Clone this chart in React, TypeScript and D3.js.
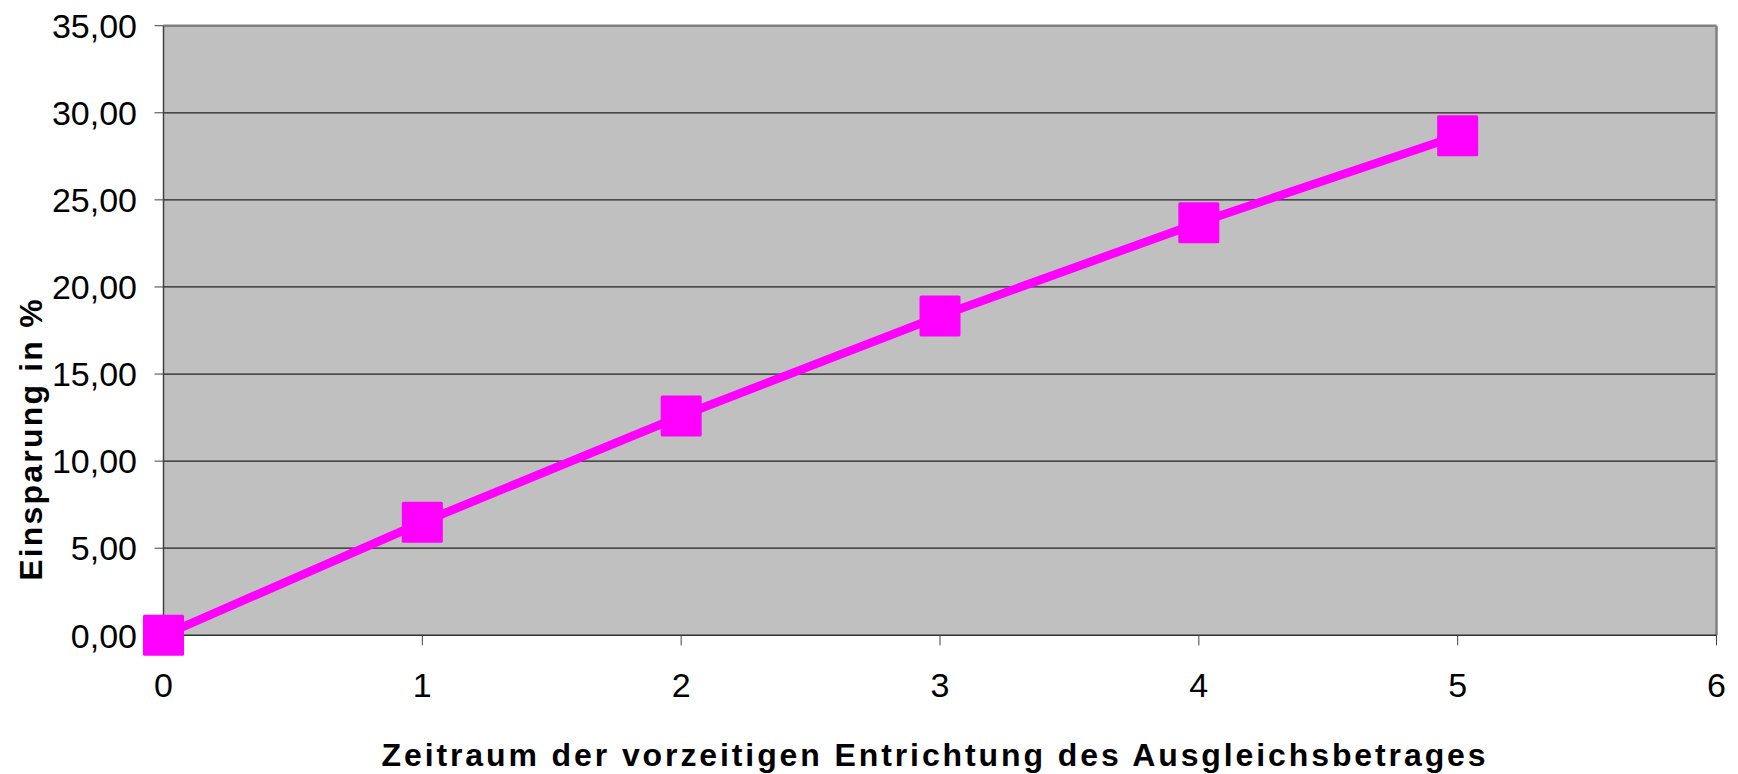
import React from 'react'
import { scaleLinear, line } from 'd3'

const years = [0, 1, 2, 3, 4, 5]
const savings = [0, 6.49, 12.59, 18.33, 23.69, 28.68]
const xTicks = [0, 1, 2, 3, 4, 5, 6]
const yTicks = [0, 5, 10, 15, 20, 25, 30, 35]

const W = 1738
const H = 774
const plot = { left: 163.5, right: 1716.5, top: 25.7, bottom: 635.3 }
const font = '"Liberation Sans", Arial, sans-serif'

const fmt = (v: number) => v.toFixed(2).replace('.', ',')

const App = () => {
  const x = scaleLinear().domain([0, 6]).range([plot.left, plot.right])
  const y = scaleLinear().domain([0, 35]).range([plot.bottom, plot.top])

  const pts = years.map((yr, i) => [x(yr), y(savings[i])] as [number, number])
  const path = line()(pts) || ''
  const marker = 41

  return (
    <svg width={W} height={H} style={{ position: 'absolute', left: 0, top: 0, background: 'white' }}>
      {/* plot background */}
      <rect x={plot.left} y={plot.top} width={plot.right - plot.left} height={plot.bottom - plot.top} fill="#c0c0c0" />

      {/* gridlines */}
      {yTicks.slice(1, -1).map(t => (
        <line key={t} x1={plot.left} x2={plot.right} y1={y(t)} y2={y(t)} stroke="#222" strokeWidth={1.3} />
      ))}

      {/* border top / right */}
      <line x1={plot.left} x2={plot.right} y1={plot.top} y2={plot.top} stroke="#808080" strokeWidth={2.5} />
      <line x1={plot.right} x2={plot.right} y1={plot.top} y2={plot.bottom} stroke="#808080" strokeWidth={2.5} />

      {/* axes */}
      <line x1={plot.left} x2={plot.left} y1={plot.top} y2={plot.bottom} stroke="#404040" strokeWidth={1.5} />
      <line x1={plot.left} x2={plot.right} y1={plot.bottom} y2={plot.bottom} stroke="#303030" strokeWidth={1.5} />

      {yTicks.map(t => (
        <g key={t}>
          <line x1={plot.left - 9} x2={plot.left} y1={y(t)} y2={y(t)} stroke="#404040" strokeWidth={1} />
          <text x={137} y={y(t)} dy="0.36em" textAnchor="end" fontFamily={font} fontSize={34} fill="#000">
            {fmt(t)}
          </text>
        </g>
      ))}

      {xTicks.map(t => (
        <g key={t}>
          <line x1={x(t)} x2={x(t)} y1={plot.bottom} y2={plot.bottom + 10} stroke="#404040" strokeWidth={1} />
          <text x={x(t)} y={697} textAnchor="middle" fontFamily={font} fontSize={34} fill="#000">
            {t}
          </text>
        </g>
      ))}

      {/* series */}
      <path d={path} fill="none" stroke="#ff00ff" strokeWidth={8.5} />
      {pts.map((p, i) => (
        <rect key={i} x={p[0] - marker / 2} y={p[1] - marker / 2} width={marker} height={marker} rx={1.5} fill="#ff00ff" />
      ))}

      {/* axis titles */}
      <text x={935} y={766} textAnchor="middle" fontFamily={font} fontWeight="bold" fontSize={32} letterSpacing={2.9} fill="#000">
        Zeitraum der vorzeitigen Entrichtung des Ausgleichsbetrages
      </text>
      <text transform={`translate(42,439) rotate(-90)`} textAnchor="middle" fontFamily={font} fontWeight="bold" fontSize={32} letterSpacing={2.2} fill="#000">
        Einsparung in %
      </text>
    </svg>
  )
}

export default App
